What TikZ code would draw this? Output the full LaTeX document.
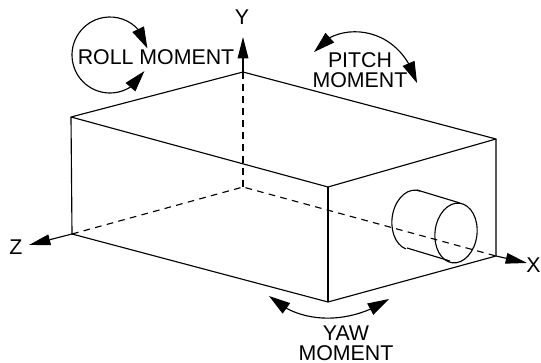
\documentclass[tikz,border=0pt]{standalone}
\usepackage{fontspec}
\setmainfont{Liberation Sans}
\usetikzlibrary{arrows.meta,bending}
\tikzset{
    edge/.style={line width=0.85pt},
    hidden/.style={line width=0.85pt,dash pattern=on 5pt off 4pt},
    moment/.style={line width=0.85pt,{Triangle[length=16pt,width=9.5pt]}-{Triangle[length=16pt,width=9.5pt]}},
    axis/.style={line width=0.85pt,-{Triangle[length=16pt,width=8pt]}},
    txt/.style={inner sep=0pt,align=center,font=\fontsize{16}{15}\selectfont}
}
\begin{document}
\begin{tikzpicture}[x=0.75pt,y=-0.75pt,line join=round]
    \useasboundingbox (0,0) rectangle (541,363);
    % box corners
    \coordinate (back) at (243,72);
    \coordinate (left) at (71,117);
    \coordinate (front) at (328,187);
    \coordinate (right) at (496,139);
    \coordinate (hid) at (243,187);
    \coordinate (leftb) at (72,234);
    \coordinate (frontb) at (328,302);
    \coordinate (rightb) at (496,256);
    % axis ends
    \coordinate (ytip) at (243,37);
    \coordinate (ztip) at (29,245);
    \coordinate (xtip) at (527,263);
    \draw[edge] (back)--(left)--(front)--(right)--cycle;
    \draw[edge] (left)--(leftb)--(frontb)--(rightb)--(right);
    \draw[edge] (front)--(frontb);
    \draw[hidden] (back)--(hid);
    \draw[hidden] (leftb)--(hid)--(rightb);
    \draw[axis] (back)--(ytip);
    \draw[axis] (leftb)--(ztip);
    \draw[axis] (rightb)--(xtip);
    \node[txt] (ylabel) at (242,17) {Y};
    \node[txt] (zlabel) at (16,247) {Z};
    \node[txt] (xlabel) at (533.5,265) {X};
    % cylinder
    \draw[edge] (417,190)--(460,203);
    \draw[edge] (407,248)--(450,261);
    \begin{scope}[shift={(413,220)},rotate=-7]
        \draw[edge] (-80:21 and 30) arc[start angle=-80,end angle=-260,x radius=21,y radius=30];
    \end{scope}
    \begin{scope}[shift={(456,233)},rotate=-7]
        \draw[edge] (0,0) circle[x radius=21,y radius=30];
    \end{scope}
    % moments
    \coordinate (rollc) at (110,55);
    \draw[moment] ([shift={(-10:38)}]rollc) arc[start angle=-10,end angle=-335,radius=38];
    \node[txt] (roll) at (156,57) {ROLL MOMENT};
    \coordinate (pitchl) at (314,52);
    \coordinate (pitchr) at (417,83);
    \draw[moment] (pitchl) .. controls (332,22) and (398,20) .. (pitchr);
    \node[txt] (pitch) at (360,70) {PITCH\\MOMENT};
    \coordinate (yawl) at (269,296);
    \coordinate (yawr) at (389,299);
    \draw[moment] (yawl) .. controls (300,325) and (350,325) .. (yawr);
    \node[txt] (yaw) at (346,343) {YAW\\MOMENT};
\end{tikzpicture}
\end{document}
